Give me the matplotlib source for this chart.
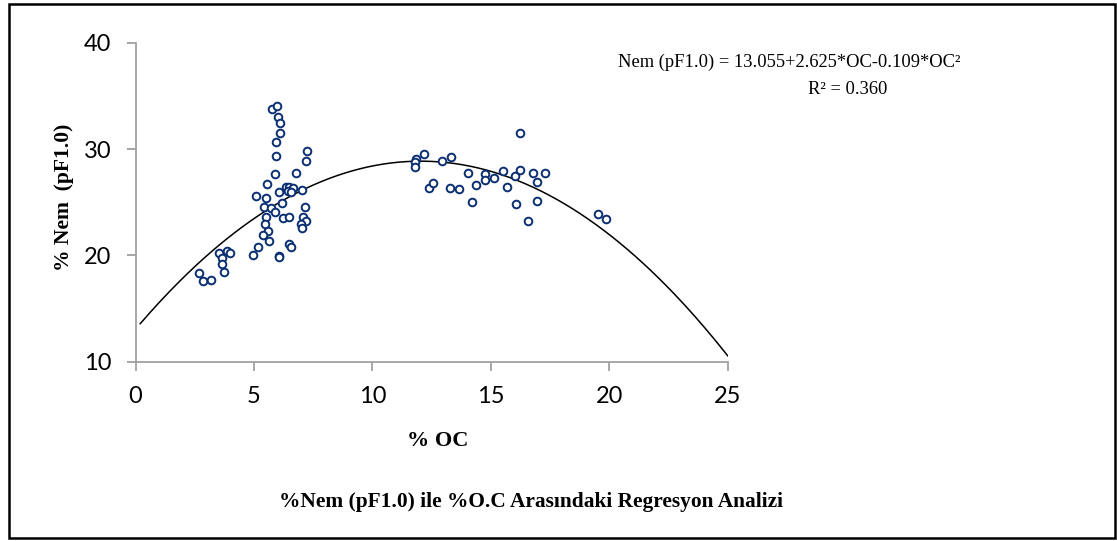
import numpy as np
import matplotlib
matplotlib.use("Agg")
from matplotlib import pyplot as plt
from matplotlib.patches import Rectangle

#-----Data-------------------------------------------------------------------
oc = [5.77, 5.97, 6.01, 6.08, 6.11, 5.95, 5.95, 7.22, 7.21, 5.90, 6.76, 5.56,
      6.36, 6.50, 6.67, 6.43, 6.55, 7.04, 6.04, 5.10, 5.49, 6.17, 7.15, 5.41,
      5.73, 5.87, 5.49, 6.22, 6.50, 7.09, 7.18, 7.00, 7.04, 5.48, 5.59, 5.38,
      5.63, 5.19, 4.98, 6.46, 6.56, 6.04, 6.06, 3.52, 3.86, 4.00, 3.66, 3.64,
      3.72, 2.70, 2.84, 3.17,
      11.85, 11.82, 11.82, 12.20, 12.92, 13.30, 12.39, 12.57, 13.29, 13.67,
      14.02, 14.20, 14.39, 14.75, 14.75, 15.13, 15.50, 15.67, 16.03, 16.22,
      16.22, 16.05, 16.58, 16.77, 16.95, 16.95, 17.30, 19.52, 19.88]
nem = [33.76, 34.07, 33.04, 32.45, 31.53, 30.66, 29.34, 29.81, 28.83, 27.61,
       27.77, 26.71, 26.45, 26.39, 26.33, 26.08, 25.92, 26.17, 25.92, 25.58,
       25.39, 24.92, 24.57, 24.54, 24.45, 24.04, 23.63, 23.47, 23.63, 23.57,
       23.19, 22.94, 22.53, 22.94, 22.31, 21.91, 21.37, 20.74, 19.99, 21.06,
       20.74, 19.90, 19.80, 20.22, 20.37, 20.18, 19.71, 19.18, 18.46, 18.30,
       17.61, 17.71,
       29.06, 28.74, 28.33, 29.49, 28.83, 29.21, 26.36, 26.80, 26.36, 26.27,
       27.77, 25.04, 26.64, 27.65, 27.08, 27.30, 27.93, 26.43, 27.49, 28.02,
       31.47, 24.83, 23.19, 27.70, 26.90, 25.11, 27.70, 23.85, 23.38]

# trendline coefficients from the chart label
b0, b1, b2 = 13.055, 2.625, -0.109
xticks = [0, 5, 10, 15, 20, 25]
yticks = [10, 20, 30, 40]

W, H = 1117, 541
fig = plt.figure(figsize=(W / 100, H / 100), dpi=100)
ax = fig.add_axes([135.5 / W, 1 - 361.7 / H, (727.7 - 135.5) / W, (361.7 - 42.7) / H])

#-----Scatter + polynomial trendline----------------------------------------
ax.plot(oc, nem, 'o', ms=5.5, mfc='white', mec='#0b2f73', mew=1.4, zorder=3)
xs = np.linspace(0.2, 25, 300)
ax.plot(xs, b0 + b1 * xs + b2 * xs ** 2, color='black', lw=1.1, zorder=2)

ax.set_xlim(0, 25)
ax.set_ylim(10, 40)
ax.set_xticks(xticks)
ax.set_yticks(yticks)
for s in ['top', 'right']:
    ax.spines[s].set_visible(False)
for s in ['left', 'bottom']:
    ax.spines[s].set_color('#a0a0a0')
    ax.spines[s].set_linewidth(1.3)
ax.tick_params(direction='out', length=6.5, width=1.3, color='#a0a0a0',
               labelsize=17, pad=11)
for lab in ax.get_xticklabels() + ax.get_yticklabels():
    lab.set_fontfamily('Lato')

#-----Labels----------------------------------------------------------------
serif = 'Liberation Serif'
fig.text(64 / W, 1 - 197 / H, '% Nem  (pF1.0)', rotation=90, ha='center', va='center',
         family=serif, weight='bold', fontsize=15.5)
fig.text(437.5 / W, 1 - 441 / H, '% OC', ha='center', va='center',
         family=serif, weight='bold', fontsize=16)
fig.text(531 / W, 1 - 502 / H, '%Nem (pF1.0) ile %O.C Arasındaki Regresyon Analizi',
         ha='center', va='center', family=serif, weight='bold', fontsize=15.4)
fig.text(618 / W, 1 - 62 / H, 'Nem (pF1.0) = 13.055+2.625*OC-0.109*OC²',
         ha='left', va='center', family=serif, fontsize=13.3)
fig.text(808 / W, 1 - 90 / H, 'R² = 0.360',
         ha='left', va='center', family=serif, fontsize=13.3)

# outer frame
fig.patches.append(Rectangle((9 / W, 3 / H), (1115 - 9) / W, (537 - 3) / H,
                             transform=fig.transFigure, fill=False,
                             edgecolor='black', lw=1.8))

fig.savefig('out.png', dpi=100)
